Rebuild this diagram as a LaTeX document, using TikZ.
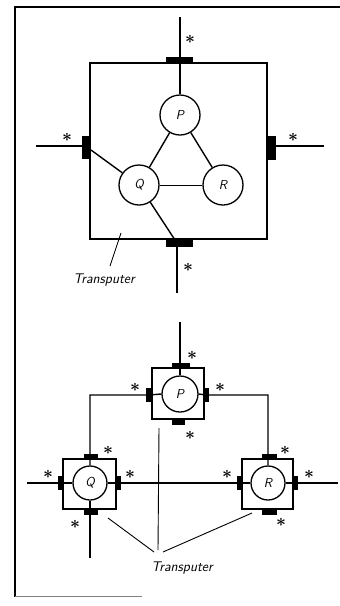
\documentclass[tikz,border=0pt]{standalone}
\begin{document}
\begin{tikzpicture}[x=1pt,y=-1pt,
  ln/.style={line width=1.4pt},
  proc/.style={circle,draw,line width=1.3pt,inner sep=0pt,font=\sffamily\itshape\fontsize{13}{15}\selectfont},
  tbox/.style={rectangle,draw,line width=1.2pt,inner sep=0pt},
  bar/.style={rectangle,fill=black,inner sep=0pt},
  star/.style={inner sep=0pt,font=\LARGE\boldmath},
  lbl/.style={font=\sffamily\itshape\fontsize{14}{16}\selectfont,inner sep=0pt}]
\useasboundingbox (0,0) rectangle (340,606);
% frame
\draw[line width=1.6pt] (340,7) -- (15,7) -- (15,597);
\draw[line width=0.8pt,gray] (15,596) -- (142,596);

% ===== top diagram =====
\node[tbox,minimum width=177pt,minimum height=176pt] (TB) at (178.5,151) {};
\node[proc,minimum size=40pt] (P) at (180,115) {P};
\node[proc,minimum size=40pt] (Q) at (139,185) {Q};
\node[proc,minimum size=40pt] (R) at (223,185) {R};
\node[bar,minimum width=27pt,minimum height=6pt] (tN) at (179.5,60) {};
\node[bar,minimum width=27pt,minimum height=8pt] (tS) at (179.5,243) {};
\node[bar,minimum width=9pt,minimum height=23pt] (tW) at (86.5,147.5) {};
\node[bar,minimum width=8pt,minimum height=24pt] (tE) at (272,148) {};
\coordinate (tNend) at (180,17);
\coordinate (tWend) at (36,146);
\coordinate (tEend) at (324,146);
\coordinate (tStop) at (177,247);
\coordinate (tSend) at (177,293);
\coordinate (tWq) at (91,150);
\coordinate (tSq) at (175,240);
\draw[ln] (tNend) -- (P);
\draw[ln] (tWend) -- (tWend-|tW.west);
\draw[ln] (tEend-|tE.east) -- (tEend);
\draw[ln] (tStop) -- (tSend);
\draw[ln] (tWq) -- (Q);
\draw[ln] (Q) -- (tSq);
\draw[ln] (P) -- (Q);
\draw[ln] (P) -- (R);
\draw[line width=1pt] (Q) -- (R);
\node[star] (s1) at (190,39) {$\ast$};
\node[star] (s2) at (67,137) {$\ast$};
\node[star] (s3) at (293,137) {$\ast$};
\node[star] (s4) at (188,267) {$\ast$};
\node[lbl] (T1) at (104,280) {Transputer};
\coordinate (T1a) at (110,266);
\coordinate (T1b) at (121,233);
\draw[line width=0.9pt] (T1a) -- (T1b);

% ===== bottom diagram =====
% P
\node[tbox,minimum width=52pt,minimum height=51pt] (PB) at (178,393.5) {};
\node[proc,minimum size=36pt] (bP) at (180,394) {P};
\node[bar,minimum width=18pt,minimum height=6pt] (bPn) at (181,365.5) {};
\node[bar,minimum width=13pt,minimum height=6pt] (bPs) at (178.5,422) {};
\node[bar,minimum width=6pt,minimum height=14pt] (bPw) at (149,395) {};
\node[bar,minimum width=5pt,minimum height=14pt] (bPe) at (206.5,395) {};
% Q
\node[tbox,minimum width=53pt,minimum height=50pt] (QB) at (89.5,484) {};
\node[proc,minimum size=34pt] (bQ) at (90,483) {Q};
\node[bar,minimum width=14pt,minimum height=6pt] (bQn) at (90.5,456.5) {};
\node[bar,minimum width=14pt,minimum height=6pt] (bQs) at (90.5,511.5) {};
\node[bar,minimum width=5pt,minimum height=14pt] (bQw) at (60.5,483) {};
\node[bar,minimum width=5pt,minimum height=14pt] (bQe) at (118.5,483) {};
% R
\node[tbox,minimum width=51pt,minimum height=50pt] (RB) at (267.5,484) {};
\node[proc,minimum size=34pt] (bR) at (268,483) {R};
\node[bar,minimum width=15pt,minimum height=6pt] (bRn) at (269,456.5) {};
\node[bar,minimum width=15pt,minimum height=6pt] (bRs) at (269.5,512) {};
\node[bar,minimum width=5pt,minimum height=14pt] (bRw) at (239.5,483) {};
\node[bar,minimum width=5pt,minimum height=14pt] (bRe) at (295.5,483) {};
% connectors
\coordinate (bPtop) at (180,322);
\coordinate (bL) at (90,395);
\coordinate (bRr) at (268,395);
\coordinate (bHl) at (27,483);
\coordinate (bHr) at (338,483);
\coordinate (bQend) at (90,558);
\draw[ln] (bPtop) -- (bP);
\draw[ln] (bP.west) -- (bPw.center) -- (bL) -- (bQ.north);
\draw[ln] (bP.east) -- (bPe.center) -- (bRr) -- (bR.north);
\draw[ln] (bHl) -- (bQ.west);
\draw[ln] (bQ.east) -- (bR.west);
\draw[ln] (bR.east) -- (bHr);
\draw[ln] (bQ.south) -- (bQend);
% stars
\node[star] at (192,355) {$\ast$};
\node[star] at (135,387) {$\ast$};
\node[star] at (220,387) {$\ast$};
\node[star] at (190,435) {$\ast$};
\node[star] at (108,450) {$\ast$};
\node[star] at (48,474) {$\ast$};
\node[star] at (130,474) {$\ast$};
\node[star] at (75,524) {$\ast$};
\node[star] at (285,450) {$\ast$};
\node[star] at (227,474) {$\ast$};
\node[star] at (309,474) {$\ast$};
\node[star] at (281,522) {$\ast$};
% label
\node[lbl] (T2) at (182,568) {Transputer};
\coordinate (L1a) at (154,552);
\coordinate (L1b) at (108,518);
\coordinate (L2a) at (158,550);
\coordinate (L2b) at (159,428);
\coordinate (L3a) at (163,552);
\coordinate (L3b) at (252,513);
\draw[line width=0.9pt] (L1a) -- (L1b);
\draw[line width=0.9pt] (L2a) -- (L2b);
\draw[line width=0.9pt] (L3a) -- (L3b);
\end{tikzpicture}
\end{document}
